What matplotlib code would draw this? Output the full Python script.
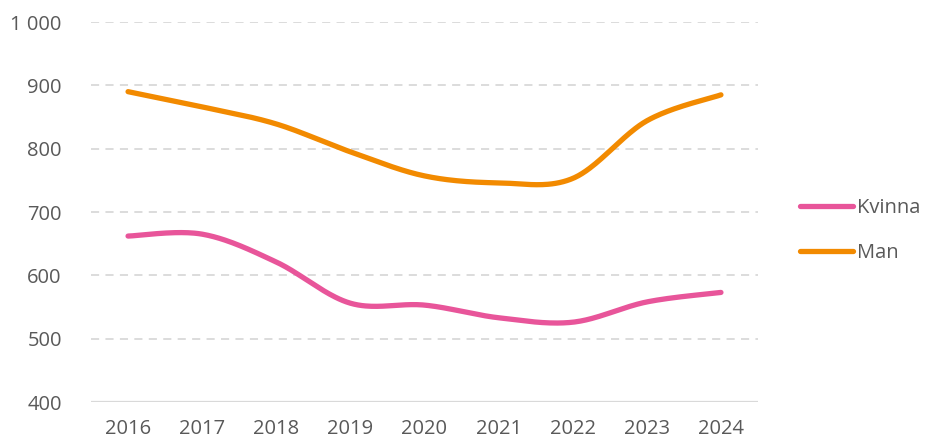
import numpy as np
import matplotlib
matplotlib.use("Agg")
import matplotlib.pyplot as plt
from matplotlib.ticker import FuncFormatter

years = ["2016", "2017", "2018", "2019", "2020", "2021", "2022", "2023", "2024"]
kvinna = [662, 665, 621, 556, 553, 533, 526, 558, 573]
man = [890, 866, 839, 795, 757, 746, 753, 844, 885]

plt.rcParams["font.family"] = ["Open Sans", "DejaVu Sans"]


def smooth(y, n=40):
    """Bezier spline through the points, tension like spreadsheet smoothed lines."""
    y = np.asarray(y, dtype=float)
    x = np.arange(len(y), dtype=float)
    xs, ys = [], []
    for i in range(len(y) - 1):
        p0 = (x[i - 1], y[i - 1]) if i > 0 else (x[i], y[i])
        p1 = (x[i], y[i])
        p2 = (x[i + 1], y[i + 1])
        p3 = (x[i + 2], y[i + 2]) if i + 2 < len(y) else (x[i + 1], y[i + 1])
        c1 = (p1[0] + (p2[0] - p0[0]) / 6, p1[1] + (p2[1] - p0[1]) / 6)
        c2 = (p2[0] - (p3[0] - p1[0]) / 6, p2[1] - (p3[1] - p1[1]) / 6)
        t = np.linspace(0, 1, n)
        b0 = (1 - t) ** 3
        b1 = 3 * (1 - t) ** 2 * t
        b2 = 3 * (1 - t) * t ** 2
        b3 = t ** 3
        xs.append(b0 * p1[0] + b1 * c1[0] + b2 * c2[0] + b3 * p2[0])
        ys.append(b0 * p1[1] + b1 * c1[1] + b2 * c2[1] + b3 * p2[1])
    return np.concatenate(xs), np.concatenate(ys)


fig = plt.figure(figsize=(9.25, 4.41), dpi=100)
ax = fig.add_axes([91 / 925, 1 - 402 / 441, (758 - 91) / 925, (402 - 22) / 441])

text_color = "#595959"
grid_color = "#D9D9D9"

for v in range(500, 1001, 100):
    ax.axhline(v, color=grid_color, lw=1.3, ls=(0, (4.5, 3.5)), zorder=0)
ax.axhline(400, color=grid_color, lw=1.6, zorder=0)

xk, yk = smooth(kvinna)
xm, ym = smooth(man)
ax.plot(xk, yk, color="#E8559A", lw=3.8, solid_capstyle="round", label="Kvinna")
ax.plot(xm, ym, color="#F28A00", lw=3.8, solid_capstyle="round", label="Man")

ax.set_xlim(-0.5, len(years) - 0.5)
ax.set_ylim(400, 1000)
ax.set_xticks(range(len(years)))
ax.set_xticklabels(years)
ax.set_yticks(range(400, 1001, 100))
ax.yaxis.set_major_formatter(FuncFormatter(lambda v, _: f"{int(v):,}".replace(",", " ")))
ax.tick_params(axis="both", length=0, labelsize=14.5, colors=text_color)
ax.tick_params(axis="y", pad=21)
ax.tick_params(axis="x", pad=12.5)
for s in ax.spines.values():
    s.set_visible(False)

fig.legend(loc="center left", bbox_to_anchor=(800 / 925, 1 - 230.5 / 441),
           frameon=False, fontsize=14.5, handlelength=2.65, handletextpad=0.2,
           labelspacing=1.28, borderpad=0, borderaxespad=0, labelcolor=text_color)

fig.savefig("out.png", dpi=100)
